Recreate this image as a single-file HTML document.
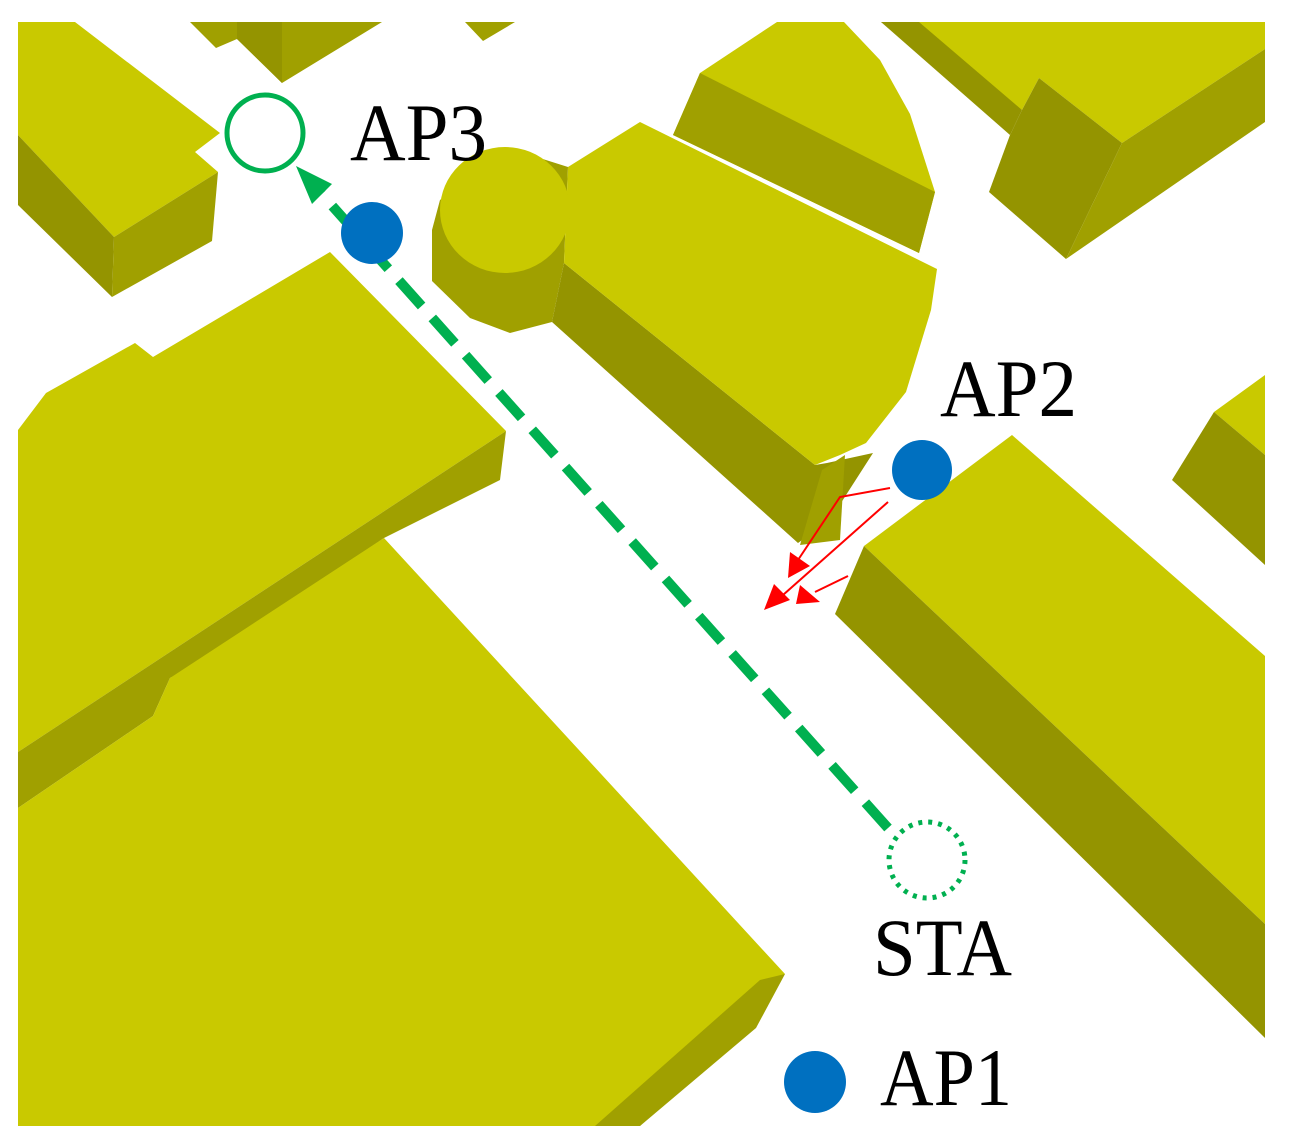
<!DOCTYPE html>
<html><head><style>
html,body{margin:0;padding:0;background:#fff;}
svg{display:block;}
text{font-family:"Liberation Serif",serif;font-size:82px;fill:#000;}
</style></head><body>
<svg width="1292" height="1148" viewBox="0 0 1292 1148" xmlns="http://www.w3.org/2000/svg">
<defs>
<clipPath id="c"><rect x="18" y="22" width="1247" height="1104"/></clipPath>
</defs>
<g clip-path="url(#c)">
<polygon points="190,22 382,22 282,83 237,39 216,48" fill="#a0a000"/>
<polygon points="237,39 282,83 282,22 237,22" fill="#949400"/>
<polygon points="465,22 515,22 483,41" fill="#a0a000"/>
<polygon points="18,22 75,22 220,133 195,152 218,172 114,237 18,135" fill="#c9c900"/>
<polygon points="18,135 114,237 112,297 18,205" fill="#949400"/>
<polygon points="114,237 218,172 212,241 112,297" fill="#a0a000"/>
<polygon points="18,430 46,393 135,343 153,357 330,252 506,431 18,752" fill="#c9c900"/>
<polygon points="506,431 500,480 384,538 205,660 170,678 153,716 18,808 18,752" fill="#a0a000"/>
<polygon points="384,538 785,974 640,1126 18,1126 18,808 153,716 170,678" fill="#c9c900"/>
<polygon points="785,974 756,1028 640,1126 595,1126 760,980" fill="#a0a000"/>
<polygon points="700,73 777,22 844,22 880,60 910,114 935,192 919,253 673,135" fill="#c9c900"/>
<polygon points="700,73 935,192 919,253 673,135" fill="#a0a000"/>
<polygon points="432,230 440,200 508,148 568,167 564,263 552,322 510,333 470,318 432,281" fill="#a0a000"/>
<polygon points="564,263 815,465 827,463 873,453 830,520 798,543 552,322" fill="#949400"/>
<polygon points="564,263 568,167 640,122 937,269 931,310 906,392 866,443 840,455 815,465" fill="#c9c900"/>
<ellipse cx="505" cy="210" rx="65" ry="63" fill="#c9c900"/>
<polygon points="822,470 845,455 840,540 800,545" fill="#a0a000"/>
<polygon points="881,22 1265,22 1265,49 1122,143 1039,78 1022,110" fill="#c9c900"/>
<polygon points="881,22 919,22 1022,110 1010,135" fill="#949400"/>
<polygon points="1039,78 1122,143 1066,259 989,192 1010,135 1022,110" fill="#949400"/>
<polygon points="1122,143 1265,49 1265,122 1066,259" fill="#a0a000"/>
<polygon points="1214,412 1265,375 1265,455" fill="#c9c900"/>
<polygon points="1214,412 1265,455 1265,565 1172,480" fill="#949400"/>
<polygon points="1012,435 1265,656 1265,924 864,546" fill="#c9c900"/>
<polygon points="864,546 1265,924 1265,1038 835,614" fill="#949400"/>
</g>
<line x1="888" y1="828" x2="318" y2="190" stroke="#00b050" stroke-width="10" stroke-dasharray="34,16"/>
<polygon points="296,166 332,184 312,204" fill="#00b050"/>
<circle cx="265" cy="133" r="38" fill="none" stroke="#00b050" stroke-width="5"/>
<circle cx="927" cy="860" r="38" fill="none" stroke="#00b050" stroke-width="5" stroke-dasharray="4,6"/>
<circle cx="372" cy="233" r="31" fill="#0070c0"/>
<circle cx="922" cy="470" r="30" fill="#0070c0"/>
<circle cx="815" cy="1082" r="31" fill="#0070c0"/>
<g stroke="#ff0000" stroke-width="2" fill="none">
<polyline points="890,488 840,497 798,560"/>
<line x1="888" y1="502" x2="783" y2="595"/>
<line x1="848" y1="576" x2="815" y2="592"/>
</g>
<g fill="#ff0000">
<polygon points="788,578 790,552 810,566"/>
<polygon points="764,610 774,584 790,600"/>
<polygon points="796,604 800,585 820,602"/>
</g>
<text x="350" y="160" textLength="137" lengthAdjust="spacingAndGlyphs">AP3</text>
<text x="940" y="416" textLength="137" lengthAdjust="spacingAndGlyphs">AP2</text>
<text x="873" y="975" textLength="139" lengthAdjust="spacingAndGlyphs">STA</text>
<text x="880" y="1105" textLength="132" lengthAdjust="spacingAndGlyphs">AP1</text>
</svg>
</body></html>
